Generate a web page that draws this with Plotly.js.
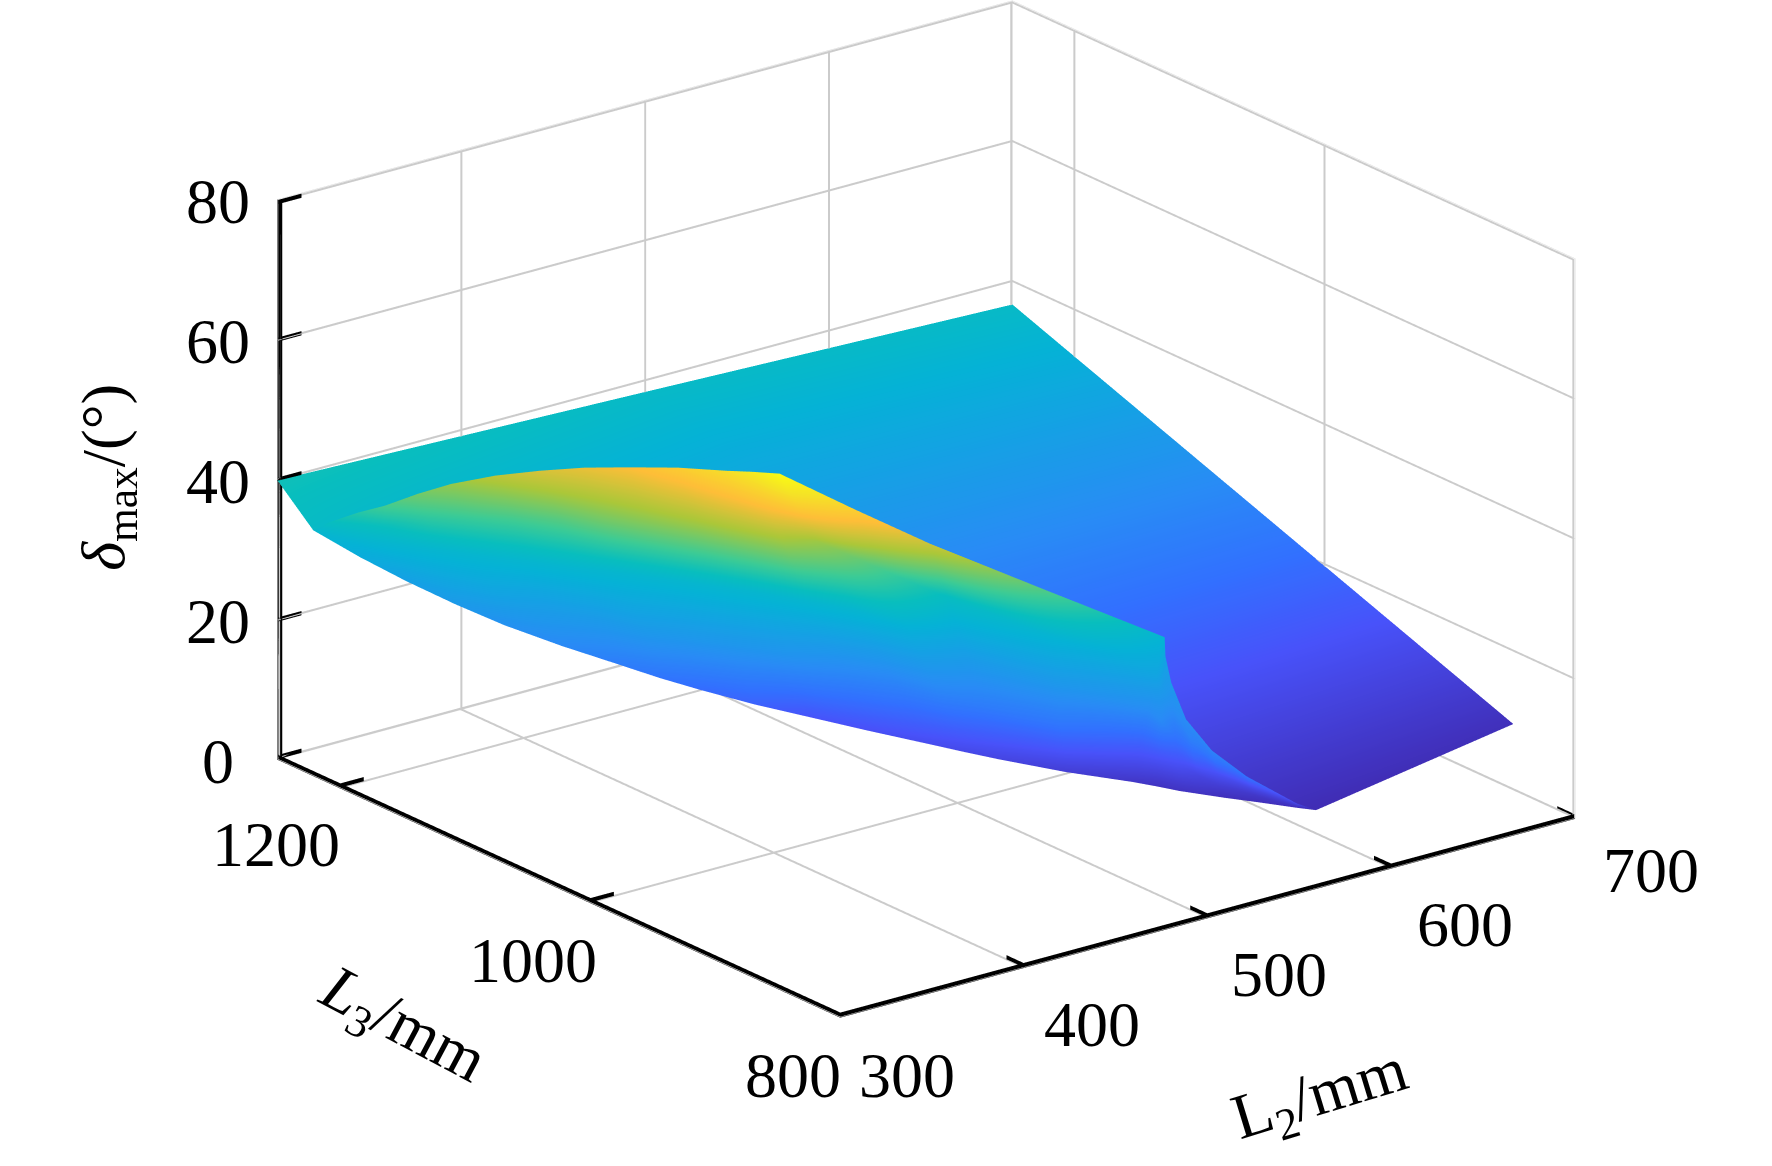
<!DOCTYPE html>
<html>
<head>
<meta charset="utf-8">
<script src="https://cdn.plot.ly/plotly-3.0.1.min.js"></script>
<style>html,body{margin:0;padding:0;background:#fff}#chart{width:1772px;height:1166px}</style>
</head>
<body>
<div id="chart"></div>
<script>
// Tick labels
const l2Ticks = [300, 400, 500, 600, 700];
const l3Ticks = [800, 1000, 1200];
const deltaTicks = [0, 20, 40, 60, 80];
const l2Range = [300, 700];
const l3Range = [800, 1250];
const deltaRange = [0, 80];

// Rear sheet of the surface (L2 mm, L3 mm, delta deg, colour position)
const rearL2 = [[300, 500, 700], [300.5, 573.5, 700]];
const rearL3 = [[1250, 1250, 1250], [1222, 821.4, 849.5]];
const rearDelta = [[39.9, 38.3, 36.6], [35, 8.44, 9.46]];
const rearShade = [[0.45, 0.42, 0.42], [0.42, 0.02, 0.03]];

// Front sheet: each line is one strip, running from the crest down to the near edge
const frontL2 = [
  [300.4,300.4,300.5,300.5,300.5],[311.5,310,308.4,306.9,305.3],[322.5,319.4,316.3,313.1,310],
  [335.4,331.4,327.5,323.5,319.5],[348.3,343.5,338.7,333.8,329],[361.9,357.9,353.8,349.8,345.7],
  [375.4,372.2,368.9,365.7,362.4],[386.7,383,379.4,375.7,372],[398,393.9,389.9,385.8,381.7],
  [408.2,406.6,405.1,403.5,401.9],[418.3,419.2,420.2,421.1,422],[420.6,425.2,429.8,434.4,439],
  [424,432,440,448,456],[459.6,460.9,462.3,463.6,464.9],[496.3,490.7,485.1,479.4,473.8],
  [537.9,526.4,514.9,503.4,491.9],[580,562.5,545,527.5,510],[576.3,561.6,547,532.3,517.6],
  [569.3,558.2,547.2,536.1,525],[561,554,546.9,539.9,532.8],[557,552.9,548.8,544.7,540.6],
  [560,558.1,556.3,554.4,552.5],[567.4,567.2,567,566.7,566.5],[573.5,573.5,573.5,573.5,573.5]
];
const frontL3 = [
  [1207,1211,1214.5,1218,1222],[1202,1199.4,1196.8,1194.1,1191.5],[1197,1188,1179,1170,1161],
  [1189.5,1176.1,1162.8,1149.4,1136],[1182,1164.3,1146.5,1128.8,1111],[1166.5,1147.3,1128,1108.8,1089.5],
  [1151,1130.3,1109.5,1088.8,1068],[1132,1111.5,1091,1070.5,1050],[1113,1092.8,1072.5,1052.3,1032],
  [1089,1071.4,1053.8,1036.1,1018.5],[1065,1050,1035,1020,1005],[1047.8,1031.3,1014.8,998.3,981.8],
  [1030.6,1012.6,994.6,976.6,958.6],[1023.3,1003.2,983.2,963.1,943],[1017,995,972.9,950.8,928.7],
  [984.5,963.8,943.2,922.5,901.8],[952,932.7,913.4,894.1,874.8],[945.9,926.1,906.3,886.4,866.6],
  [931,913.2,895.3,877.5,859.6],[907,893.5,880,866.5,853],[880.5,872,863.5,854.9,846.4],
  [857,851.9,846.9,841.8,836.7],[827.9,827.4,826.8,826.3,825.7],[821.4,821.4,821.4,821.4,821.4]
];
const frontDelta = [
  [37.5,36.9,36.25,35.6,35],[38.4,37.1,35.85,34.6,33.3],[39,37.25,35.5,33.75,32],
  [40.4,37.8,35.25,32.7,30.1],[41.5,38.25,35,31.75,28.5],[43,38.8,34.55,30.3,26.1],
  [44,39,34,29,24],[45.2,39.6,34.05,28.5,22.9],[46,40,34,28,22],
  [47.2,40.3,33.4,26.5,19.6],[48,40.4,32.75,25.1,17.5],[49.1,40.9,32.65,24.4,16.2],
  [50,41.25,32.5,23.75,15],[43,35.9,28.7,21.6,14.5],[36,30.5,25,19.5,14],
  [29,25,21.05,17.1,13.1],[22,19.65,17.3,14.95,12.6],[20,18,16.05,14.1,12.1],
  [18,16.4,14.75,13.1,11.5],[15.3,14.2,13.15,12.1,11],[13.3,12.6,11.9,11.2,10.5],
  [11.3,10.9,10.55,10.2,9.8],[9.3,9.2,9.1,9,8.9],[8.44,8.44,8.44,8.44,8.44]
];
const frontShade = [
  [.44,.43,.42,.41,.40],[.48,.44,.41,.38,.36],[.52,.45,.40,.36,.32],
  [.57,.48,.40,.35,.30],[.61,.50,.40,.34,.27],[.66,.52,.40,.32,.25],
  [.70,.54,.40,.31,.22],[.73,.57,.40,.31,.20],[.76,.59,.40,.30,.18],
  [.81,.61,.40,.29,.16],[.87,.63,.40,.28,.13],[.92,.64,.40,.26,.12],
  [1,.62,.40,.25,.11],[.82,.52,.37,.24,.10],[.68,.43,.32,.22,.09],
  [.53,.39,.30,.20,.07],[.39,.34,.26,.15,.05],[.33,.30,.25,.14,.04],
  [.30,.26,.20,.12,.04],[.26,.23,.17,.09,.04],[.24,.19,.12,.07,.03],
  [.20,.14,.09,.05,.03],[.10,.08,.06,.04,.03],[.02,.02,.02,.02,.02]
];

const parula = [
  [0, 'rgb(62,38,168)'], [0.127, 'rgb(72,82,250)'], [0.19, 'rgb(50,112,255)'], [0.254, 'rgb(40,140,245)'],
  [0.38, 'rgb(5,178,214)'], [0.44, 'rgb(8,190,190)'], [0.508, 'rgb(60,203,150)'], [0.635, 'rgb(171,199,57)'],
  [0.762, 'rgb(254,190,56)'], [0.889, 'rgb(245,227,38)'], [1, 'rgb(249,251,20)']
];

const rows = m => m[0].map((_, r) => m.map(strip => strip[r]));
const flat = {ambient: 1, diffuse: 0, specular: 0, roughness: 1, fresnel: 0};
function sheet(x, y, z, c) {
  return {type: 'surface', x: x, y: y, z: z, surfacecolor: c, cmin: 0, cmax: 1,
    colorscale: parula, showscale: false, lighting: flat, hoverinfo: 'skip'};
}

// Walls, axis lines and tick marks are thin ribbons in data space, built from the tick lists.
// Each entry: start point, end point, thickness vector. Ribbons are kept just inside the scene box.
const bounds = [l2Range, l3Range, deltaRange];
const EPS = [0.3, 0.3, 0.05];
function ribbons(list, color) {
  const out = [[], [], []], i = [], j = [], k = [];
  list.forEach(s => {
    const n = out[0].length, [p, q, t] = s;
    const base = [0, 1, 2].map(a => {
      const lo = bounds[a][0] + EPS[a], hi = bounds[a][1] - EPS[a];
      let mv = 0;
      if (Math.min(p[a], q[a]) - t[a] / 2 < lo) mv = lo - (Math.min(p[a], q[a]) - t[a] / 2);
      if (Math.max(p[a], q[a]) + t[a] / 2 > hi) mv = hi - (Math.max(p[a], q[a]) + t[a] / 2);
      return mv;
    });
    const spans = Math.abs(p[0] - q[0]) > 0 ? 0 : Math.abs(p[1] - q[1]) > 0 ? 1 : 2;
    const spanLo = bounds[spans][0] + EPS[spans], spanHi = bounds[spans][1] - EPS[spans];
    [[p, -1], [p, 1], [q, 1], [q, -1]].forEach(c => {
      [0, 1, 2].forEach(a => {
        let v;
        if (a === spans) v = Math.min(spanHi, Math.max(spanLo, c[0][a]));
        else v = c[0][a] + base[a] + c[1] * t[a] / 2;
        out[a].push(v);
      });
    });
    i.push(n, n); j.push(n + 1, n + 2); k.push(n + 2, n + 3);
  });
  return {type: 'mesh3d', x: out[0], y: out[1], z: out[2], i: i, j: j, k: k, color: color, flatshading: true,
    lighting: flat, hoverinfo: 'skip', showscale: false};
}
const [x0, x1] = l2Range, [y0, y1] = l3Range, [z0, z1] = deltaRange;
const GL2 = 1.08, GL3 = 1.6, GZ = 0.3;    // grid line thickness in each axis' units
const AL2 = 2.2, AZ = 0.6;                // axis line and tick thickness
const grid = [];
l2Ticks.forEach(v => {
  grid.push([[v, y1, z0], [v, y1, z1], [GL2, 0, 0]]);
  if (v !== x1) grid.push([[v, y0, z0], [v, y1, z0], [GL2 * 1.5, 0, 0]]);
});
l3Ticks.forEach(v => {
  grid.push([[x1, v, z0], [x1, v, z1], [0, GL3, 0]]);
  grid.push([[x0, v, z0], [x1, v, z0], [0, GL3 * 1.4, 0]]);
});
deltaTicks.forEach(v => {
  grid.push([[x0, y1, v], [x1, y1, v], [0, 0, GZ]]);
  grid.push([[x1, y0, v], [x1, y1, v], [0, 0, GZ]]);
});
const frame = [
  [[x0, y1, z0], [x0, y1, z1], [AL2, 0, 0]],
  [[x0, y0, z0], [x0, y1, z0], [0, 0, AZ]],
  [[x0, y0, z0], [x1, y0, z0], [0, 0, AZ]]
];
const TICK_L2 = 13, TICK_L3 = 14;
deltaTicks.forEach(v => frame.push([[x0, y1, v], [x0 + TICK_L2, y1, v], [0, 0, AZ]]));
l3Ticks.forEach(v => frame.push([[x0, v, z0], [x0 + TICK_L2, v, z0], [0, 0, AZ]]));
l2Ticks.forEach(v => frame.push([[v, y0, z0], [v, y0 + TICK_L3, z0], [0, 0, AZ]]));

const FONT = 'Liberation Serif';
function note(x, y, z, text, dx, dy, angle, size) {
  return {x: x, y: y, z: z, text: text, showarrow: false, xshift: dx, yshift: dy,
    textangle: angle || 0, xanchor: 'center', yanchor: 'middle',
    font: {family: FONT, size: size || 64, color: '#000'}};
}
const notes = [];
deltaTicks.forEach(v => notes.push(note(x0, y1, v, String(v), -59, -2)));
const l3Shift = {800: [-47, -58], 1000: [-57, -57.5], 1200: [-64, -56.6]};
l3Ticks.forEach(v => notes.push(note(x0, v, z0, String(v), l3Shift[v][0], l3Shift[v][1])));
const l2Shift = {300: [66.6, -57.7], 400: [67.7, -56.6], 500: [71, -56.6], 600: [73.4, -56.6], 700: [75.7, -52]};
l2Ticks.forEach(v => notes.push(note(v, y0, z0, String(v), l2Shift[v][0], l2Shift[v][1])));
notes.push(note(x0, y1, 40, '<i>δ</i><sub>max</sub>/(°)', -170, 2, -90, 62));
notes.push(note(x0, 1000, z0, '<i>L</i><sub>3</sub>/mm', -188, -124, 28));
notes.push(note(500, y0, z0, 'L<sub>2</sub>/mm', 113, -178.5, -17));

function axis(range, vals) {
  return {range: range, autorange: false, tickmode: 'array', tickvals: vals,
    showticklabels: false, title: {text: ''}, showgrid: true, gridcolor: '#d8d8d8', gridwidth: 1,
    showline: true, linecolor: '#000', linewidth: 1, ticks: '',
    showbackground: false, zeroline: false, showspikes: false};
}

const R = 3;
const dir = [-0.570, -0.742, 0.352];
const center = {x: -0.082, y: 0.0067, z: -0.1187};
const layout = {
  width: 1772, height: 1166, margin: {l: 0, r: 0, t: 0, b: 0}, paper_bgcolor: '#fff',
  showlegend: false,
  scene: {
    domain: {x: [0, 1], y: [0, 1]},
    aspectmode: 'manual', aspectratio: {x: 1.59, y: 1.585, z: 1.026},
    bgcolor: '#fff',
    xaxis: axis(l2Range, l2Ticks),
    yaxis: axis(l3Range, l3Ticks),
    zaxis: axis(deltaRange, deltaTicks),
    camera: {
      projection: {type: 'orthographic'},
      up: {x: 0, y: 0, z: 1},
      center: center,
      eye: {x: center.x + R * dir[0], y: center.y + R * dir[1], z: center.z + R * dir[2]}
    },
    annotations: notes
  }
};
Plotly.newPlot('chart', [
  ribbons(grid, '#cbcbcb'),
  sheet(rearL2, rearL3, rearDelta, rearShade),
  sheet(rows(frontL2), rows(frontL3), rows(frontDelta), rows(frontShade)),
  ribbons(frame, '#000')
], layout, {displayModeBar: false});
</script>
</body>
</html>
